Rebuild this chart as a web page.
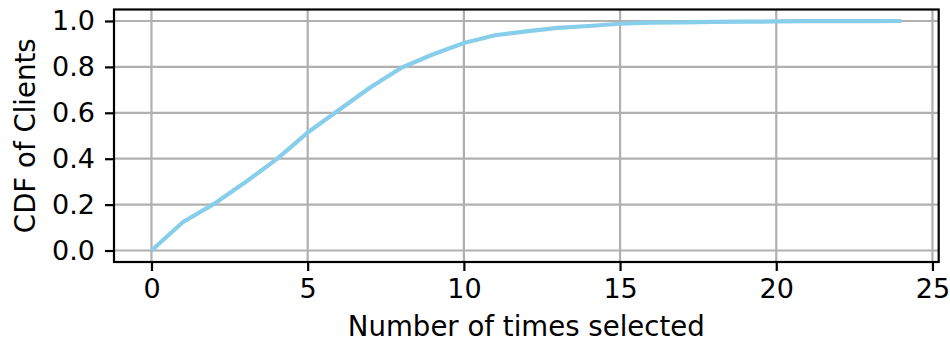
<!DOCTYPE html>
<html>
<head>
<meta charset="utf-8">
<script src="https://cdn.jsdelivr.net/npm/d3@7"></script>
<style>
  body { margin: 0; background: #fff; }
  svg { display: block; font-family: "DejaVu Sans", sans-serif; }
</style>
</head>
<body>
<script>
const width = 950;
const height = 346;
const margin = { top: 9.5, right: 11.3, bottom: 84, left: 114 };

// times selected (x) and CDF of clients (y)
const timesSelected = [0, 1, 2, 3, 4, 5, 6, 7, 8, 9, 10, 11, 12, 13, 14, 15, 16, 17, 18, 19, 20, 21, 22, 23, 24];
const cdfValues = [0.0, 0.123, 0.203, 0.297, 0.397, 0.514, 0.612, 0.71, 0.796, 0.854, 0.904, 0.938, 0.955, 0.97, 0.978, 0.988, 0.993, 0.994, 0.996, 0.997, 0.998, 0.999, 0.999, 0.9995, 1.0];
const xTicks = [0, 5, 10, 15, 20, 25];
const yTicks = [0, 0.2, 0.4, 0.6, 0.8, 1.0];

const data = timesSelected.map((t, i) => ({ x: t, y: cdfValues[i] }));

const svg = d3
  .select("body")
  .append("svg")
  .attr("width", width)
  .attr("height", height);

const xScale = d3
  .scaleLinear()
  .domain([-1.2, 25.2])
  .range([margin.left, width - margin.right]);

const yScale = d3
  .scaleLinear()
  .domain([-0.05, 1.05])
  .range([height - margin.bottom, margin.top]);

// grid
svg
  .append("g")
  .selectAll("line")
  .data(xTicks)
  .join("line")
  .attr("x1", (d) => xScale(d))
  .attr("x2", (d) => xScale(d))
  .attr("y1", margin.top)
  .attr("y2", height - margin.bottom)
  .attr("stroke", "#b0b0b0")
  .attr("stroke-width", 2.2);

svg
  .append("g")
  .selectAll("line")
  .data(yTicks)
  .join("line")
  .attr("x1", margin.left)
  .attr("x2", width - margin.right)
  .attr("y1", (d) => yScale(d))
  .attr("y2", (d) => yScale(d))
  .attr("stroke", "#b0b0b0")
  .attr("stroke-width", 2.2);

// curve
const line = d3
  .line()
  .x((d) => xScale(d.x))
  .y((d) => yScale(d.y));

svg
  .append("path")
  .datum(data)
  .attr("d", line)
  .attr("fill", "none")
  .attr("stroke", "#87ceeb")
  .attr("stroke-width", 4.2)
  .attr("stroke-linejoin", "round");

// axes
const xAxis = d3
  .axisBottom(xScale)
  .tickValues(xTicks)
  .tickFormat(d3.format("d"))
  .tickSize(9)
  .tickPadding(8)
  .tickSizeOuter(0);

const yAxis = d3
  .axisLeft(yScale)
  .tickValues(yTicks)
  .tickFormat(d3.format(".1f"))
  .tickSize(9)
  .tickPadding(10)
  .tickSizeOuter(0);

const gx = svg
  .append("g")
  .attr("transform", `translate(0, ${height - margin.bottom})`)
  .call(xAxis);

const gy = svg
  .append("g")
  .attr("transform", `translate(${margin.left}, 0)`)
  .call(yAxis);

[gx, gy].forEach((g) => {
  g.select(".domain").remove();
  g.selectAll(".tick line").attr("stroke", "#000").attr("stroke-width", 2.2);
  g.selectAll(".tick text")
    .attr("fill", "#000")
    .style("font-size", "27px")
    .style("font-family", "DejaVu Sans");
});

// frame
svg
  .append("rect")
  .attr("x", margin.left)
  .attr("y", margin.top)
  .attr("width", width - margin.left - margin.right)
  .attr("height", height - margin.top - margin.bottom)
  .attr("fill", "none")
  .attr("stroke", "#000")
  .attr("stroke-width", 2.2);

// labels
svg
  .append("text")
  .text("Number of times selected")
  .attr("x", (margin.left + width - margin.right) / 2)
  .attr("y", 336)
  .attr("text-anchor", "middle")
  .style("font-size", "27.6px");

svg
  .append("text")
  .text("CDF of Clients")
  .attr("transform", "rotate(-90)")
  .attr("x", -(margin.top + height - margin.bottom) / 2)
  .attr("y", 35)
  .attr("text-anchor", "middle")
  .style("font-size", "27.6px");
</script>
</body>
</html>
